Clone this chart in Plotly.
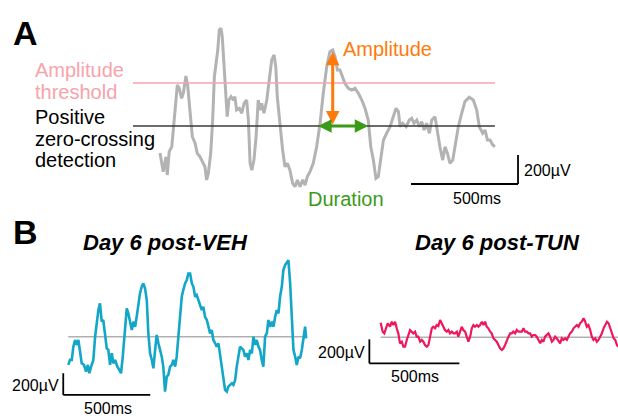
import plotly.graph_objects as go

# ---------------- data ----------------
# Panel A: example trace (time in ms, voltage in µV)
a_time_ms = [0, 15, 28, 34, 43, 55, 62, 75, 81, 90, 101, 109, 121, 129, 140, 151, 164, 174, 187, 200,
             210, 218, 226, 237, 246, 254, 262, 270, 277, 285, 291, 299, 307, 314, 322, 332, 343, 350, 358, 371,
             382, 393, 405, 413, 421, 429, 439, 449, 459, 467, 475, 486, 499, 511, 522, 533, 541, 548, 561, 573,
             584, 595, 607, 620, 631, 642, 654, 667, 678, 688, 701, 716, 732, 748, 763, 779, 794, 807, 818, 829,
             841, 854, 864, 880, 896, 911, 927, 943, 958, 973, 985, 997, 1009, 1020, 1031, 1044, 1059, 1075, 1090, 1103,
             1114, 1122, 1134, 1150, 1165, 1176, 1187, 1200, 1212, 1223, 1234, 1246, 1259, 1270, 1285, 1296, 1308, 1321, 1332, 1343,
             1355, 1368, 1379, 1394, 1410, 1425, 1445, 1464, 1480, 1492, 1508, 1519, 1530, 1542, 1555, 1565]
a_uV = [-186, -315, -212, -338, -177, -143, -28, 202, 283, 260, 191, 226, 345, 283, 88, -74, -119, -188, -212, -257,
        -281, -372, -326, -188, 41, 340, 432, 524, 662, 674, 616, 432, 271, 64, 179, 202, 179, 202, 110, 122,
        88, 157, 179, 41, -257, -304, -235, -74, 179, 110, 157, 88, 179, 317, 455, 490, 409, 202, -5, -166,
        -281, -257, -304, -395, -419, -372, -419, -372, -407, -350, -315, -257, -143, 19, 226, 409, 513, 524, 478, 386,
        386, 340, 295, 260, 248, 260, 226, 179, 122, 41, -143, -235, -361, -350, -235, -97, -50, -5, 64, 122,
        99, -5, 19, -5, 41, 53, 19, 41, -5, 30, -28, 19, -50, 41, 64, -50, -143, -235, -143, -188,
        -257, -235, -143, -5, 88, 168, 198, 179, 110, -5, -50, -28, -97, -97, -131, -143]
a_line_ms = [-126, 1565]           # extent of the detection lines
amp_threshold_uV = 297
zero_uV = 0
amp_peak_ms, amp_peak_uV = 807, 512
dur_start_ms, dur_end_ms = 732, 973

# Panel B left: Day 6 post-VEH
veh_time_ms = [0, 10, 20, 29, 39, 48, 58, 67, 77, 90, 102, 112, 121, 131, 144, 154, 163, 173, 182, 192,
               201, 211, 221, 230, 240, 250, 259, 269, 282, 293, 303, 313, 322, 336, 345, 355, 365, 374, 384, 393,
               403, 412, 422, 431, 441, 451, 460, 470, 480, 489, 499, 508, 518, 527, 537, 546, 556, 566, 575, 585,
               595, 604, 614, 623, 633, 642, 652, 661, 671, 681, 690, 700, 710, 719, 729, 738, 748, 757, 767, 776,
               786, 796, 805, 815, 824, 834, 844, 853, 863, 872, 882, 891, 901, 911, 920, 930, 940, 949, 959, 968,
               978, 987, 997, 1006, 1016, 1026, 1035, 1045, 1055, 1064, 1074, 1083, 1093, 1102, 1112, 1121, 1131, 1141, 1150, 1160,
               1170, 1179, 1189, 1198, 1208, 1217, 1227, 1236, 1246, 1256, 1265, 1275, 1284, 1294, 1304, 1313, 1323, 1332, 1342, 1351,
               1361, 1367]
veh_uV = [-260, -214, -214, -92, -30, -76, -30, -122, -245, -260, -322, -260, -337, -276, -214, 0, 123, 246, 307, 138,
          154, 0, -107, -122, -260, -153, -245, -214, -276, -306, -337, -184, 0, 261, 215, 138, 62, 138, 92, 184,
          307, 399, 460, 491, 445, 338, 31, -153, -214, -291, -122, 16, -61, -122, -184, -276, -506, -368, -352, -276,
          -260, -214, -276, -184, 0, 184, 368, 430, 491, 522, 583, 583, 491, 460, 368, 384, 338, 276, 246, 276,
          184, 154, 92, 31, 62, -30, -61, -92, -61, -153, -276, -368, -490, -506, -460, -444, -429, -444, -398, -276,
          -184, -92, -107, -122, -184, -153, -214, -122, -153, 0, -76, -30, -92, -122, -214, -276, 0, 31, 154, 92,
          138, 92, 184, 246, 215, 368, 460, 614, 660, 690, 706, 491, 123, -122, -184, -260, -184, -199, -122, 0,
          92, -15]

# Panel B right: Day 6 post-TUN
tun_time_ms = [0, 11, 20, 29, 39, 52, 61, 70, 80, 89, 98, 107, 117, 126, 135, 145, 153, 163, 172, 181,
               191, 200, 209, 219, 228, 237, 246, 256, 265, 274, 284, 292, 302, 311, 320, 330, 339, 348, 357, 367,
               376, 385, 395, 404, 413, 423, 431, 441, 450, 459, 469, 478, 487, 497, 506, 515, 524, 534, 543, 552,
               562, 571, 580, 589, 598, 608, 617, 626, 636, 645, 654, 663, 673, 682, 691, 701, 710, 719, 728, 737,
               747, 756, 765, 775, 784, 793, 802, 812, 821, 830, 839, 848, 858, 867, 876, 886, 895, 904, 913, 923,
               932, 941, 951, 960, 969, 978, 988, 997, 1006, 1015, 1025, 1034, 1043, 1052, 1062, 1071, 1080, 1090, 1099, 1108,
               1117, 1127, 1136, 1145, 1154, 1164, 1173, 1182, 1192, 1201, 1210, 1219, 1229, 1238, 1247, 1257, 1266, 1275, 1284, 1294,
               1303, 1312, 1320]
tun_uV = [122, 47, 33, 75, 117, 88, 130, 102, 130, 75, 33, -50, -37, -78, -78, -22, 19, 61, 47, 33,
          47, 5, 5, -37, -22, -37, -64, -78, -64, 5, 75, 88, 75, 102, 94, 144, 117, 88, 61, 47,
          61, 33, 47, 33, 33, 47, 5, 47, 88, 61, 47, 5, -37, 5, 75, 102, 88, 102, 88, 102,
          130, 102, 130, 88, 75, 47, 33, -8, -22, -37, -64, -92, -106, -92, -64, -22, 5, 33, 33, 47,
          33, 61, 47, 47, 47, 75, 47, 47, 33, 33, 5, 19, 19, 5, -22, -50, -22, -37, 5, 19,
          33, 5, -37, -22, 5, -8, -37, -50, -8, -22, -8, -22, 5, 33, 47, 75, 88, 102, 88, 117,
          130, 158, 130, 88, 102, 61, 5, -22, -8, -37, -22, 5, 33, 75, 102, 130, 117, 75, 33, -8,
          -22, -64, -78]

scale_ms = 500
scale_uV = 200

# ---------------- styling / layout helpers ----------------
W, H = 618, 416
FONT = "Liberation Sans, Arial, sans-serif"
GRAY = "#b3b3b3"
PINK = "#f7a3ab"
ORANGE = "#ff7a0a"
GREEN = "#3b9a17"
BLUE = "#12a6c8"
RED = "#ee175c"


def axis_range(origin_px, unit_per_px, size_px, flip=False):
    if not flip:
        return [-origin_px * unit_per_px, (size_px - origin_px) * unit_per_px]
    return [(origin_px - size_px) * unit_per_px, origin_px * unit_per_px]


# pixel scale of each panel (from the scale bars in the picture)
A_ms_px, A_uv_px = 500 / 107, 200 / 29
L_ms_px, L_uv_px = 500 / 87, 200 / 21.7
R_ms_px, R_uv_px = 500 / 90, 200 / 24

fig = go.Figure()

# Panel A
fig.add_trace(go.Scatter(x=a_time_ms, y=a_uV, mode="lines", line=dict(color=GRAY, width=3),
                         xaxis="x", yaxis="y", hoverinfo="skip"))
fig.add_trace(go.Scatter(x=a_line_ms, y=[amp_threshold_uV] * 2, mode="lines",
                         line=dict(color=PINK, width=1.6), xaxis="x", yaxis="y", hoverinfo="skip"))
fig.add_trace(go.Scatter(x=a_line_ms, y=[zero_uV] * 2, mode="lines",
                         line=dict(color="#3a3a3a", width=1.4), xaxis="x", yaxis="y", hoverinfo="skip"))

# Panel B left
fig.add_trace(go.Scatter(x=[veh_time_ms[0], veh_time_ms[-1]], y=[0, 0], mode="lines",
                         line=dict(color="#b0b0b0", width=1.6), xaxis="x2", yaxis="y2", hoverinfo="skip"))
fig.add_trace(go.Scatter(x=veh_time_ms, y=veh_uV, mode="lines", line=dict(color=BLUE, width=2.6),
                         xaxis="x2", yaxis="y2", hoverinfo="skip"))

# Panel B right
fig.add_trace(go.Scatter(x=[tun_time_ms[0], tun_time_ms[-1]], y=[0, 0], mode="lines",
                         line=dict(color="#b0b0b0", width=1.6), xaxis="x3", yaxis="y3", hoverinfo="skip"))
fig.add_trace(go.Scatter(x=tun_time_ms, y=tun_uV, mode="lines", line=dict(color=RED, width=2.2),
                         xaxis="x3", yaxis="y3", hoverinfo="skip"))


def scale_bar(xref, yref, x_end, y_base):
    return [
        dict(type="line", xref=xref, yref=yref, x0=x_end - scale_ms, x1=x_end, y0=y_base, y1=y_base,
             line=dict(color="black", width=1.8)),
        dict(type="line", xref=xref, yref=yref, x0=x_end, x1=x_end, y0=y_base, y1=y_base + scale_uV,
             line=dict(color="black", width=1.8)),
    ]


def scale_bar_left(xref, yref, x_start, y_base):
    return [
        dict(type="line", xref=xref, yref=yref, x0=x_start, x1=x_start + scale_ms, y0=y_base, y1=y_base,
             line=dict(color="black", width=1.8)),
        dict(type="line", xref=xref, yref=yref, x0=x_start, x1=x_start, y0=y_base, y1=y_base + scale_uV,
             line=dict(color="black", width=1.8)),
    ]


shapes = []
shapes += scale_bar("x", "y", 1673, -400)
shapes += scale_bar_left("x2", "y2", -29, -537)
shapes += scale_bar_left("x3", "y3", -63, -217)


def P(x, y):
    return x / W, 1 - y / H


annotations = []


def text(s, x, y, size, color="black", xanchor="center", yanchor="middle", bold=False, italic=False):
    px, py = P(x, y)
    if bold:
        s = "<b>" + s + "</b>"
    if italic:
        s = "<i>" + s + "</i>"
    annotations.append(dict(text=s, x=px, y=py, xref="paper", yref="paper", showarrow=False,
                            xanchor=xanchor, yanchor=yanchor,
                            font=dict(family=FONT, size=size, color=color)))


text("A", 25, 33, 34, bold=True)
text("B", 25, 232, 34, bold=True)
text("Amplitude", 33, 70, 20, color=PINK, xanchor="left")
text("threshold", 33, 92, 20, color=PINK, xanchor="left")
text("Positive", 33, 117, 20, xanchor="left")
text("zero-crossing", 33, 139, 20, xanchor="left")
text("detection", 33, 160, 20, xanchor="left")
text("Amplitude", 341, 49, 20, color=ORANGE, xanchor="left")
text("Duration", 346, 199, 20, color=GREEN)
text("200µV", 522, 170, 16, xanchor="left")
text("500ms", 477, 198, 16)
text("Day 6 post-VEH", 166, 242, 22, bold=True, italic=True)
text("Day 6 post-TUN", 497, 242, 22, bold=True, italic=True)
text("200µV", 61, 385, 16, xanchor="right")
text("500ms", 108, 408, 16)
text("200µV", 367, 352, 16, xanchor="right")
text("500ms", 415, 376, 16)

# arrows for amplitude and duration
annotations.append(dict(x=amp_peak_ms, y=amp_peak_uV, ax=amp_peak_ms, ay=zero_uV, xref="x", yref="y",
                        axref="x", ayref="y", text="", showarrow=True, arrowhead=2, arrowside="end+start",
                        arrowsize=0.9, arrowwidth=3, arrowcolor=ORANGE, standoff=0, startstandoff=0))
annotations.append(dict(x=dur_end_ms, y=zero_uV, ax=dur_start_ms, ay=zero_uV, xref="x", yref="y",
                        axref="x", ayref="y", text="", showarrow=True, arrowhead=2, arrowside="end+start",
                        arrowsize=0.9, arrowwidth=3, arrowcolor=GREEN, standoff=0, startstandoff=0))

hidden = dict(visible=False, showgrid=False, zeroline=False, fixedrange=True)
fig.update_layout(
    width=W, height=H, autosize=False,
    margin=dict(l=0, r=0, t=0, b=0, pad=0),
    paper_bgcolor="white", plot_bgcolor="rgba(0,0,0,0)",
    showlegend=False,
    xaxis=dict(domain=[0, 1], range=axis_range(160, A_ms_px, W), anchor="y", **hidden),
    yaxis=dict(domain=[0, 1], range=axis_range(126, A_uv_px, H, flip=True), anchor="x", **hidden),
    xaxis2=dict(domain=[0, 1], range=axis_range(68.3, L_ms_px, W), anchor="y2", **hidden),
    yaxis2=dict(domain=[0, 1], range=axis_range(336.7, L_uv_px, H, flip=True), anchor="x2", **hidden),
    xaxis3=dict(domain=[0, 1], range=axis_range(380.7, R_ms_px, W), anchor="y3", **hidden),
    yaxis3=dict(domain=[0, 1], range=axis_range(337.3, R_uv_px, H, flip=True), anchor="x3", **hidden),
    shapes=shapes,
    annotations=annotations,
)

fig.write_html("out.html")
